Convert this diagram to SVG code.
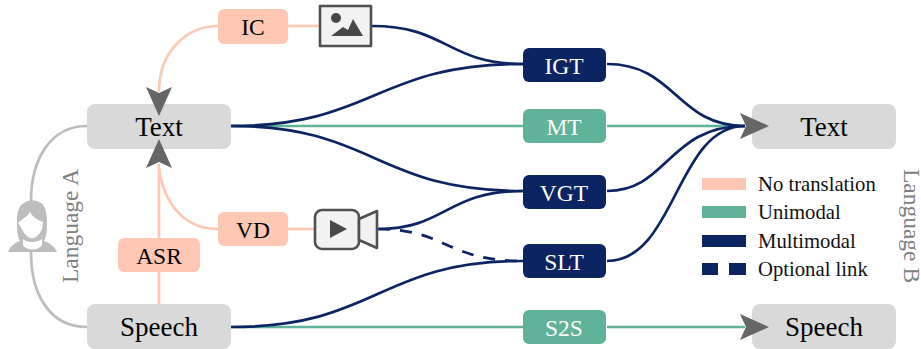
<svg xmlns="http://www.w3.org/2000/svg" width="921" height="349" viewBox="0 0 921 349">
<style>
text{font-family:"Liberation Serif","Times New Roman",serif;text-anchor:middle}
.c{fill:none;stroke-width:2.7}
.p{stroke:#fec8b4}.g{stroke:#60b298}.n{stroke:#0c2461}.y{stroke:#bdbdbd}
.t1{font-size:27px;fill:#000}.t2{font-size:23.5px}
.lg{font-size:20.7px;text-anchor:start;fill:#111}
.side{font-size:23.5px;fill:#808080}
.ah{fill:#666}
.ic{fill:#f2f2f2;stroke:#505050;stroke-width:2.6;stroke-linejoin:round}
</style>
<g id="connectors">
<path class="c p" d="M218 26C188 26 159 50 159 92"/>
<path class="c p" d="M288 26H320"/>
<path class="c p" d="M159 164V304"/>
<path class="c p" d="M218 229C185 229 164 205 159 168"/>
<path class="c p" d="M288 229H316"/>
<path class="c y" d="M87 126C50 126 31 160 31 201"/>
<path class="c y" d="M31 252C31 295 50 327 87 327"/>
<path class="c g" d="M231 126H523"/>
<path class="c g" d="M607 126H745"/>
<path class="c g" d="M231 327H523"/>
<path class="c g" d="M607 327H745"/>
<path class="c n" d="M372 26C447 26 447 64 523 64"/>
<path class="c n" d="M231 126C375 126 375 64 523 64"/>
<path class="c n" d="M231 126C375 126 375 191 523 191"/>
<path class="c n" d="M378 229C446 229 446 191 523 191"/>
<path class="c n" d="M231 327C378 327 378 261 523 261"/>
<path class="c n" stroke-dasharray="12 10" d="M378 229C446 229 446 261 523 261"/>
<path class="c n" d="M607 64C676 64 676 126 745 126"/>
<path class="c n" d="M607 191C668 191 668 126 745 126"/>
<path class="c n" d="M607 261C676 261 676 126 745 126"/>
</g>
<g id="text-a"><rect x="87" y="104" width="144" height="45" rx="8" fill="#d9d9d9"/><text class="t1" x="159" y="136">Text</text></g>
<g id="speech-a"><rect x="87" y="304" width="144" height="45" rx="8" fill="#d9d9d9"/><text class="t1" x="159" y="336">Speech</text></g>
<g id="text-b"><rect x="752" y="104" width="144" height="45" rx="8" fill="#d9d9d9"/><text class="t1" x="824" y="136">Text</text></g>
<g id="speech-b"><rect x="752" y="304" width="144" height="45" rx="8" fill="#d9d9d9"/><text class="t1" x="824" y="336">Speech</text></g>
<g id="arrowheads">
<path class="ah" d="M146 87L159 93L172 87L159 116Z"/>
<path class="ah" d="M146 168L159 162L172 168L159 139Z"/>
<path class="ah" d="M740 113L769 126L740 139L746 126Z"/>
<path class="ah" d="M740 314L769 327L740 340L746 327Z"/>
</g>
<g id="ic"><rect x="218" y="9" width="70" height="35" rx="6" fill="#fec8b4"/><text class="t2" x="253" y="35">IC</text></g>
<g id="vd"><rect x="218" y="212" width="70" height="34" rx="6" fill="#fec8b4"/><text class="t2" x="253" y="238">VD</text></g>
<g id="asr"><rect x="118" y="238" width="82" height="34" rx="6" fill="#fec8b4"/><text class="t2" x="159" y="264">ASR</text></g>
<g id="igt"><rect x="523" y="48" width="83" height="34" rx="6" fill="#0c2461"/><text class="t2" x="564" y="74" fill="#fff">IGT</text></g>
<g id="mt"><rect x="523" y="109" width="83" height="34" rx="6" fill="#60b298"/><text class="t2" x="564" y="135" fill="#fff">MT</text></g>
<g id="vgt"><rect x="523" y="175" width="83" height="34" rx="6" fill="#0c2461"/><text class="t2" x="564" y="201" fill="#fff">VGT</text></g>
<g id="slt"><rect x="523" y="244" width="83" height="34" rx="6" fill="#0c2461"/><text class="t2" x="564" y="270" fill="#fff">SLT</text></g>
<g id="s2s"><rect x="523" y="310" width="83" height="34" rx="6" fill="#60b298"/><text class="t2" x="564" y="336" fill="#fff">S2S</text></g>
<g id="image-icon"><rect x="320" y="6" width="51" height="40" class="ic"/><circle cx="336" cy="18" r="5" fill="#484848"/><path d="M331 36L343 27L348 30L353 19L363 36Z" fill="#484848"/></g>
<g id="video-icon"><rect x="315" y="210" width="44" height="39" rx="7" class="ic"/><path d="M359 219L377 211V248L359 240Z" class="ic"/><path d="M330 220L347 229L330 238Z" fill="#484848"/></g>
<g id="person" fill="#bdbdbd"><path d="M8 252C10 247 14 243 20 241C17 236 17 228 17 222C17 212 19 205 24 203C27 200 36 200 39 202C45 204 47 212 47 222C47 228 47 236 44 241C50 243 55 247 57 252Z"/><path d="M18 223C22 219 28 216 30 212C33 218 38 220 43 222C43 228 41 233 37 236C34 239 30 239 27 236C23 233 22 228 18 223Z" fill="#fff"/><path d="M23 239C27 243 37 243 42 239V245C38 251 27 251 23 245Z" fill="#fff"/></g>
<g id="labels">
<text class="side" x="0" y="0" transform="translate(78 226) rotate(-90)">Language A</text>
<text class="side" x="0" y="0" transform="translate(904 226) rotate(90)">Language B</text>
</g>
<g id="legend">
<rect x="702" y="178" width="44" height="12" fill="#fec8b4"/><text class="lg" x="758" y="191">No translation</text>
<rect x="702" y="206" width="44" height="12" fill="#60b298"/><text class="lg" x="758" y="219">Unimodal</text>
<rect x="702" y="235" width="44" height="12" fill="#0c2461"/><text class="lg" x="758" y="248">Multimodal</text>
<rect x="702" y="263" width="16" height="12" fill="#0c2461"/><rect x="729" y="263" width="17" height="12" fill="#0c2461"/><text class="lg" x="758" y="276">Optional link</text>
</g>
</svg>
